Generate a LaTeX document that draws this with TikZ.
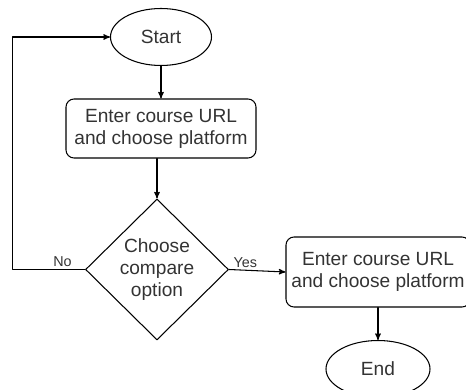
\documentclass[tikz,border=0pt]{standalone}
\usepackage{fontspec}
\setmainfont{Liberation Sans}
\usetikzlibrary{arrows,shapes.geometric}
\definecolor{txtgray}{rgb}{0.2,0.2,0.2}

\tikzset{
  flowtext/.style={font=\fontsize{13.6}{15.7}\selectfont,text=txtgray,align=center},
  startstop/.style={flowtext,draw,ellipse,inner sep=0pt},
  process/.style={flowtext,draw,rectangle,rounded corners=0.2cm,inner sep=0pt},
  decision/.style={flowtext,draw,diamond,inner sep=0pt},
  branch/.style={font=\fontsize{10.2}{12}\selectfont,text=txtgray,inner sep=1.5pt}
}

\begin{document}
\begin{tikzpicture}[line cap=round,line join=round,>=stealth',x=1cm,y=1cm,line width=0.75pt]
\clip(0,0) rectangle (11.65,9.75);
% nodes
\node[startstop,minimum width=2.525cm,minimum height=1.425cm] (start) at (4.025,8.825) {Start};
\node[process,minimum width=4.75cm,minimum height=1.475cm] (enter) at (4.025,6.5375) {Enter course URL\\and choose platform};
\node[decision,minimum width=3.575cm,minimum height=3.525cm] (choose) at (3.925,3.0125) {Choose\\compare\\option};
\node[process,minimum width=4.6cm,minimum height=1.75cm] (enter2) at (9.45,2.95) {Enter course URL\\and choose platform};
\node[startstop,minimum width=2.6cm,minimum height=1.425cm] (end) at (9.45,0.525) {End};
\coordinate (loopx) at (0.3125,0);
% connectors
\draw [->] (start) -- (enter);
\draw [->] (enter.south -| choose.north) -- (choose.north);
\draw [->] (choose.east) -- node[branch,above,pos=0.29] {Yes} (enter2.west);
\draw [->] (enter2) -- (end);
\draw [->] (choose.west) -- node[branch,above,pos=0.31] {No} (choose.west -| loopx) |- (start.west);
\end{tikzpicture}
\end{document}
